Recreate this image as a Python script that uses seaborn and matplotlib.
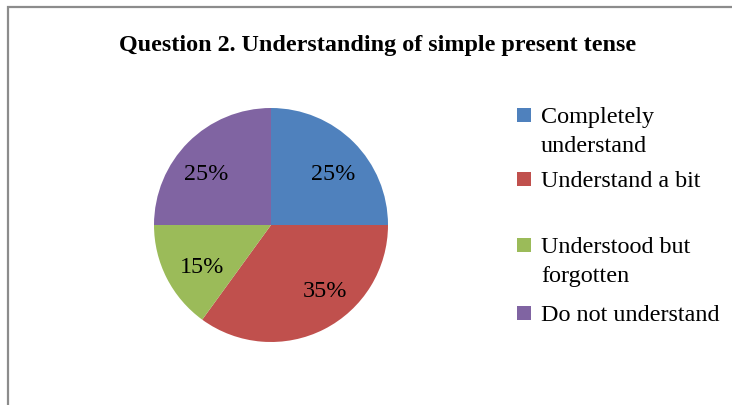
import matplotlib
matplotlib.use('Agg')
import matplotlib.pyplot as plt
import seaborn as sns
from matplotlib.patches import Rectangle

# dados do gráfico
categorias = ['Completely\nunderstand', 'Understand a bit', 'Understood but\nforgotten', 'Do not understand']
percentuais = [25, 35, 15, 25]
cores = ['#4F81BD', '#C0504D', '#9BBB59', '#8064A2']
titulo = 'Question 2. Understanding of simple present tense'

sns.set_theme(style='white')
plt.rcParams['font.family'] = ['Liberation Serif', 'DejaVu Serif']
plt.rcParams['text.color'] = 'black'

paleta = sns.color_palette(cores)

W, H = 732, 405
fig = plt.figure(figsize=(W / 100, H / 100), dpi=100)

# moldura cinza (só topo e esquerda visíveis)
fig.patches.append(Rectangle((8 / W, -0.1), 1.2, (H - 7) / H + 0.1, transform=fig.transFigure,
                             fill=False, edgecolor='#8c8c8c', linewidth=1.6))

fig.text(378 / W, 1 - 45 / H, titulo, ha='center', va='center',
         fontsize=17.4, fontweight='bold', color='black')

# pizza
ax = fig.add_axes([154 / W, 63 / H, 234 / W, 234 / H])
_, _, rotulos = ax.pie(percentuais, colors=paleta, startangle=90, counterclock=False,
                       autopct='%d%%', pctdistance=0.7,
                       textprops={'fontsize': 17.4, 'color': 'black'},
                       wedgeprops={'linewidth': 0})
# posição dos rótulos como no Excel
pos_rotulos = [(0.53, 0.43), (0.46, -0.57), (-0.59, -0.36), (-0.55, 0.43)]
for t, p in zip(rotulos, pos_rotulos):
    t.set_position(p)
ax.set_xlim(-1, 1)
ax.set_ylim(-1, 1)
ax.set_aspect('equal')

# legenda no estilo do Excel (quadrado alinhado com a primeira linha)
y_legenda = [115, 179, 245, 313]
for cat, cor, y in zip(categorias, paleta, y_legenda):
    fig.patches.append(Rectangle((517 / W, 1 - (y + 7) / H), 14 / W, 14 / H,
                                 transform=fig.transFigure, facecolor=cor, edgecolor='none'))
    fig.text(541 / W, 1 - (y - 8) / H, cat, ha='left', va='top',
             fontsize=17.4, linespacing=1.5, color='black')

plt.savefig('out.png', dpi=100)
